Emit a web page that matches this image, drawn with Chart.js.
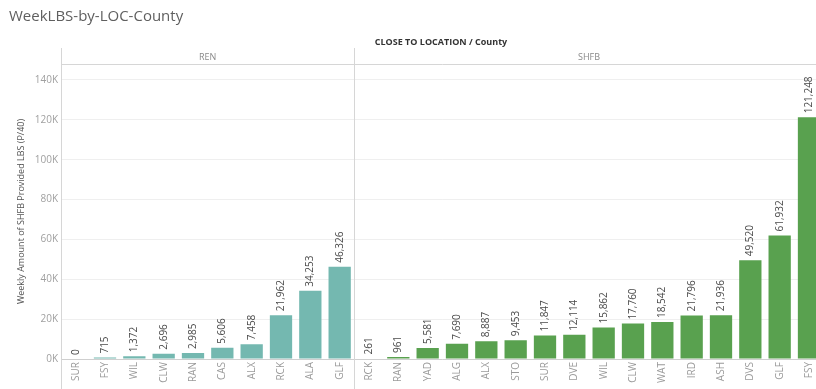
<!DOCTYPE html>
<html>
<head>
<meta charset="utf-8">
<script src="https://cdn.jsdelivr.net/npm/chart.js@4.4.0/dist/chart.umd.min.js"></script>
<style>
  html, body { margin: 0; padding: 0; background: #fff; overflow: hidden; }
  #wrap { width: 824px; height: 389px; }
</style>
</head>
<body>
<div id="wrap"><canvas id="weekLbs"></canvas></div>
<script>
// REN counties, sorted ascending
const renCounties = ['SUR', 'FSY', 'WIL', 'CLW', 'RAN', 'CAS', 'ALX', 'RCK', 'ALA', 'GLF'];
const renValues = [0, 715, 1372, 2696, 2985, 5606, 7458, 21962, 34253, 46326];

// SHFB counties, sorted ascending
const shfbCounties = ['RCK', 'RAN', 'YAD', 'ALG', 'ALX', 'STO', 'SUR', 'DVE', 'WIL', 'CLW', 'WAT', 'IRD', 'ASH', 'DVS', 'GLF', 'FSY'];
const shfbValues = [261, 961, 5581, 7690, 8887, 9453, 11847, 12114, 15862, 17760, 18542, 21796, 21936, 49520, 61932, 121248];

const yTicks = [0, 20000, 40000, 60000, 80000, 100000, 120000, 140000];

const renColor = '#74b8b0';
const shfbColor = '#59a14f';
const font = '"Open Sans", "Noto Sans", sans-serif';

const labels = renCounties.concat(shfbCounties);
const values = renValues.concat(shfbValues);
const colors = renCounties.map(() => renColor).concat(shfbCounties.map(() => shfbColor));

// title, facet headers and panel separators
const facetPlugin = {
    id: 'facets',
    afterDraw(chart) {
        const ctx = chart.ctx;
        const area = chart.chartArea;
        const x = chart.scales.x;
        const h = chart.height;
        const split = (x.getPixelForValue(renCounties.length - 1) + x.getPixelForValue(renCounties.length)) / 2;

        ctx.save();
        ctx.fillStyle = '#5f5f5f';
        ctx.font = '15px ' + font;
        ctx.textAlign = 'left';
        ctx.textBaseline = 'middle';
        ctx.fillText('WeekLBS-by-LOC-County', 9, 17);

        ctx.fillStyle = '#333';
        ctx.font = 'bold 9px ' + font;
        ctx.textAlign = 'center';
        ctx.fillText('CLOSE TO LOCATION / County', 441, 42);

        ctx.fillStyle = '#8a8a8a';
        ctx.font = '9px ' + font;
        ctx.fillText('REN', (area.left + split) / 2, 57);
        ctx.fillText('SHFB', (split + area.right) / 2, 57);

        ctx.strokeStyle = '#d6d6d6';
        ctx.lineWidth = 1;
        ctx.beginPath();
        ctx.moveTo(area.left, area.top + 0.5);
        ctx.lineTo(area.right, area.top + 0.5);
        ctx.moveTo(Math.round(area.left) + 0.5, 48);
        ctx.lineTo(Math.round(area.left) + 0.5, h);
        ctx.moveTo(Math.round(split) + 0.5, 48);
        ctx.lineTo(Math.round(split) + 0.5, h);
        ctx.stroke();
        ctx.restore();
    }
};

// rotated value labels above each bar
const valueLabels = {
    id: 'valueLabels',
    afterDatasetsDraw(chart) {
        const ctx = chart.ctx;
        const meta = chart.getDatasetMeta(0);
        ctx.save();
        ctx.fillStyle = '#4a4a4a';
        ctx.font = '10px ' + font;
        ctx.textAlign = 'left';
        ctx.textBaseline = 'middle';
        meta.data.forEach((bar, i) => {
            ctx.save();
            ctx.translate(bar.x, bar.y - 4);
            ctx.rotate(-Math.PI / 2);
            ctx.fillText(values[i].toLocaleString('en-US'), 0, 0);
            ctx.restore();
        });
        ctx.restore();
    }
};

new Chart(document.getElementById('weekLbs'), {
    type: 'bar',
    data: {
        labels: labels,
        datasets: [{
            data: values,
            backgroundColor: colors,
            categoryPercentage: 1,
            barPercentage: 0.76
        }]
    },
    options: {
        responsive: true,
        maintainAspectRatio: false,
        animation: false,
        layout: { padding: { top: 64, left: 0, right: 0, bottom: 0 } },
        plugins: {
            legend: { display: false },
            tooltip: { enabled: false }
        },
        scales: {
            x: {
                grid: { display: false, drawTicks: false },
                border: { color: '#cfcfcf' },
                ticks: {
                    color: '#9a9a9a',
                    font: { family: font, size: 10 },
                    minRotation: 90,
                    maxRotation: 90,
                    padding: 3,
                    autoSkip: false
                },
                afterFit(scale) { scale.height = 30; }
            },
            y: {
                min: 0,
                max: 148000,
                afterBuildTicks(scale) {
                    scale.ticks = yTicks.map(v => ({ value: v }));
                },
                grid: { color: '#efefef', drawTicks: false },
                border: { color: '#d6d6d6' },
                ticks: {
                    color: '#a0a0a0',
                    font: { family: font, size: 10 },
                    padding: 3,
                    callback: v => (v / 1000) + 'K'
                },
                title: {
                    display: true,
                    text: 'Weekly Amount of SHFB Provided LBS (P/40)',
                    color: '#555',
                    font: { family: font, size: 9 },
                    padding: { top: 16, bottom: 0 }
                },
                afterFit(scale) { scale.width = 61; }
            }
        }
    },
    plugins: [facetPlugin, valueLabels]
});
</script>
</body>
</html>
